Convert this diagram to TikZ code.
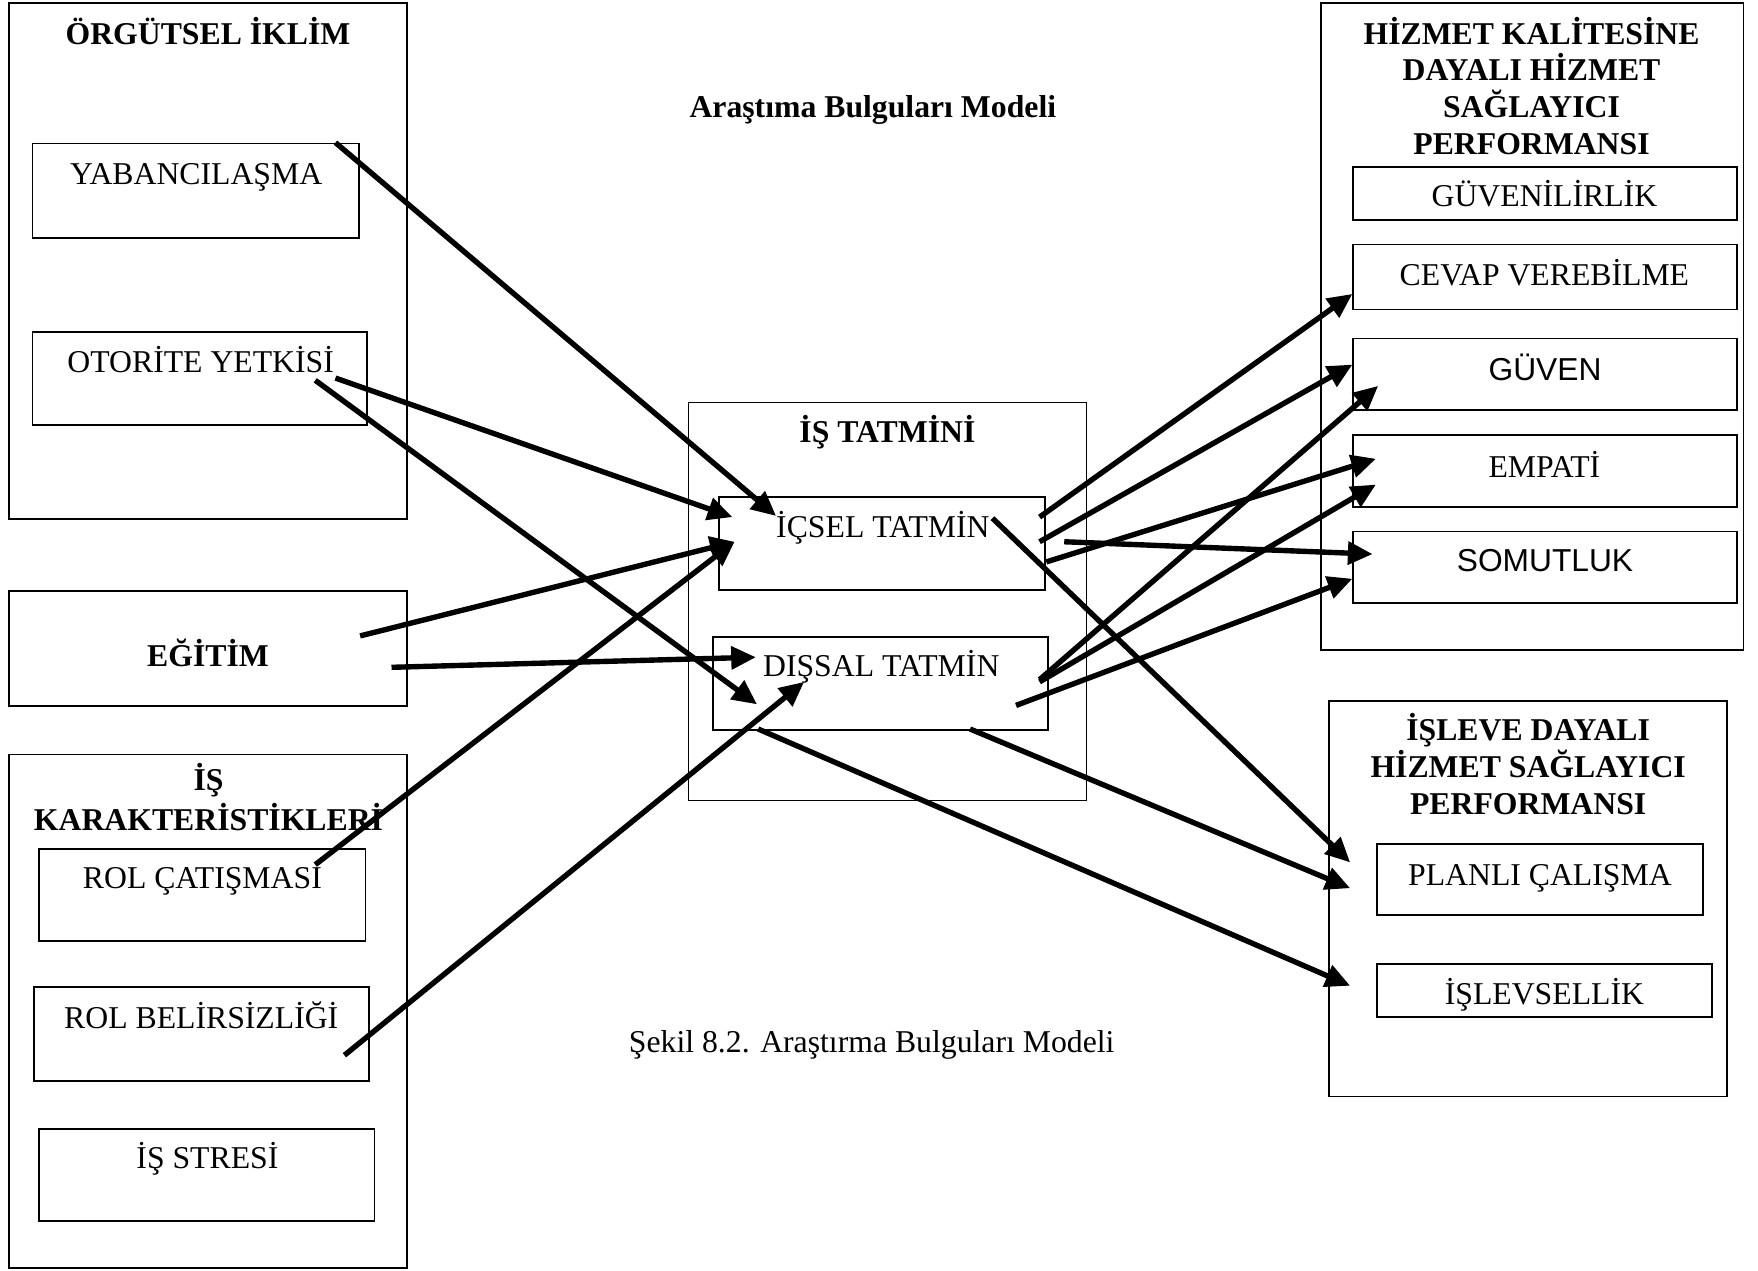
\documentclass[tikz,border=0pt]{standalone}
\usepackage{fontspec}
\setmainfont{Liberation Serif}
\newfontfamily\arialfont{Liberation Sans}
\usetikzlibrary{arrows.meta,calc,fit}

\begin{document}
\begin{tikzpicture}[x=0.5pt,y=-0.5pt,
  box/.style={draw, line width=0.8pt, inner sep=0pt},
  lbl/.style={anchor=base, inner sep=0pt, font=\fontsize{14.15pt}{16.35pt}\selectfont},
  sanslbl/.style={lbl, font=\fontsize{14.15pt}{16.35pt}\selectfont\arialfont},
  head/.style={anchor=base, inner sep=0pt, align=center, font=\fontsize{14.15pt}{16.35pt}\selectfont\bfseries},
  link/.style={line width=2.4pt, -{Triangle[length=11pt,width=10pt]}}]
\useasboundingbox (0,0) rectangle (1568,1133);

% ---- left column ----
\node[box, fit={(8,3) (363,463)}] (org) {};
\node[head] (orgT) at (185.5,39.5) {ÖRGÜTSEL İKLİM};
\node[box, fit={(29,128) (320,212)}] (yab) {};
\node[lbl] (yabT) at (175,164.5) {YABANCILAŞMA};
\node[box, fit={(29,296) (327,379)}] (oto) {};
\node[lbl] (otoT) at (179,332.5) {OTORİTE YETKİSİ};

\node[box, fit={(8,527) (363,630)}] (egt) {};
\node[head] (egtT) at (185.5,594.5) {EĞİTİM};

\node[box, fit={(8,673) (363,1131)}] (isk) {};
% multi-line titles sit on the baseline of their last line
\node[head, font=\fontsize{14.15pt}{17.5pt}\selectfont\bfseries] (iskT) at (186,740.5) {İŞ\\KARAKTERİSTİKLERİ};
\node[box, fit={(35,757) (326,839)}] (rolc) {};
\node[lbl] (rolcT) at (180.5,792.5) {ROL ÇATIŞMASI};
\node[box, fit={(30,880) (329,964)}] (rolb) {};
\node[lbl] (rolbT) at (179.5,917.5) {ROL BELİRSİZLİĞİ};
\node[box, fit={(35,1007) (334,1089)}] (stres) {};
\node[lbl] (stresT) at (185,1042.5) {İŞ STRESİ};

% ---- centre ----
\node[head] (title) at (778.5,104.5) {Araştıma Bulguları Modeli};
\node[box, fit={(614,359) (969,714)}] (ist) {};
\node[head] (istT) at (791.5,394.5) {İŞ TATMİNİ};
\node[box, fit={(641,443) (932,526)}] (icsel) {};
\node[lbl] (icselT) at (787.5,479.5) {İÇSEL TATMİN};
\node[box, fit={(636,568) (935,651)}] (dissal) {};
\node[lbl] (dissalT) at (786,603.5) {DIŞSAL TATMİN};
\node[lbl] (caption) at (777.5,938.5) {Şekil 8.2. Araştırma Bulguları Modeli};

% ---- right column ----
\node[box, fit={(1178,3) (1555,580)}] (hiz) {};
\node[head] (hizT) at (1366,137.5) {HİZMET KALİTESİNE\\DAYALI HİZMET\\SAĞLAYICI\\PERFORMANSI};
\node[box, fit={(1207,149) (1549,196)}] (guvl) {};
\node[lbl] (guvlT) at (1377.5,184.5) {GÜVENİLİRLİK};
\node[box, fit={(1207,218) (1549,276)}] (cevap) {};
\node[lbl] (cevapT) at (1377.5,254.5) {CEVAP VEREBİLME};
\node[box, fit={(1207,302) (1549,366)}] (guven) {};
\node[sanslbl] (guvenT) at (1378,339) {GÜVEN};
\node[box, fit={(1207,388) (1549,452)}] (empati) {};
\node[lbl] (empatiT) at (1377.5,425.5) {EMPATİ};
\node[box, fit={(1207,474) (1549,538)}] (somut) {};
\node[sanslbl] (somutT) at (1378,510) {SOMUTLUK};

\node[box, fit={(1185,625) (1540,978)}] (isl) {};
\node[head, font=\fontsize{14.15pt}{16.5pt}\selectfont\bfseries] (islT) at (1363,726.5) {İŞLEVE DAYALI\\HİZMET SAĞLAYICI\\PERFORMANSI};
\node[box, fit={(1228,753) (1519,816)}] (planli) {};
\node[lbl] (planliT) at (1373.5,789.5) {PLANLI ÇALIŞMA};
\node[box, fit={(1228,860) (1527,907)}] (islev) {};
\node[lbl] (islevT) at (1377.5,895.5) {İŞLEVSELLİK};

% ---- connectors into job satisfaction ----
\draw[link] ($(yab.north west)+(271,0)$) -- ($(icsel.north west)+(52,18)$);
\draw[link] ($(oto.north west)+(271,42)$) -- ($(icsel.north west)+(13,19)$);
\draw[link] ($(oto.north west)+(253,44)$) -- ($(dissal.north west)+(40,61)$);
\draw[link] ($(egt.north west)+(314,41)$) -- ($(icsel.north west)+(15,41)$);
\draw[link] ($(egt.north west)+(342,69)$) -- ($(dissal.north west)+(39,19)$);
\draw[link] ($(rolc.north west)+(247,15)$) -- ($(icsel.north west)+(15,41)$);
\draw[link] ($(rolb.north west)+(278,62)$) -- ($(dissal.north west)+(82,41)$);

% ---- connectors out of job satisfaction ----
\draw[link] ($(icsel.north west)+(287,19)$) -- ($(cevap.north west)+(0,45)$);
\draw[link] ($(icsel.north west)+(287,41)$) -- ($(guven.north west)+(0,24)$);
\draw[link] ($(icsel.north west)+(309,41)$) -- ($(somut.north west)+(18,21)$);
\draw[link] ($(icsel.north west)+(293,59)$) -- ($(empati.north west)+(21,22)$);
\draw[link] ($(icsel.north west)+(245,20)$) -- ($(planli.north west)+(-23,17)$);
\draw[link] ($(dissal.north west)+(292,39)$) -- ($(guven.north west)+(23,43)$);
\draw[link] ($(dissal.north west)+(292,41)$) -- ($(empati.north west)+(21,45)$);
\draw[link] ($(dissal.north west)+(271,62)$) -- ($(somut.north west)+(0,43)$);
\draw[link] ($(dissal.north west)+(230,83)$) -- ($(planli.north west)+(-23,40)$);
\draw[link] ($(dissal.north west)+(41,83)$) -- ($(islev.north west)+(-23,20)$);
\end{tikzpicture}
\end{document}
